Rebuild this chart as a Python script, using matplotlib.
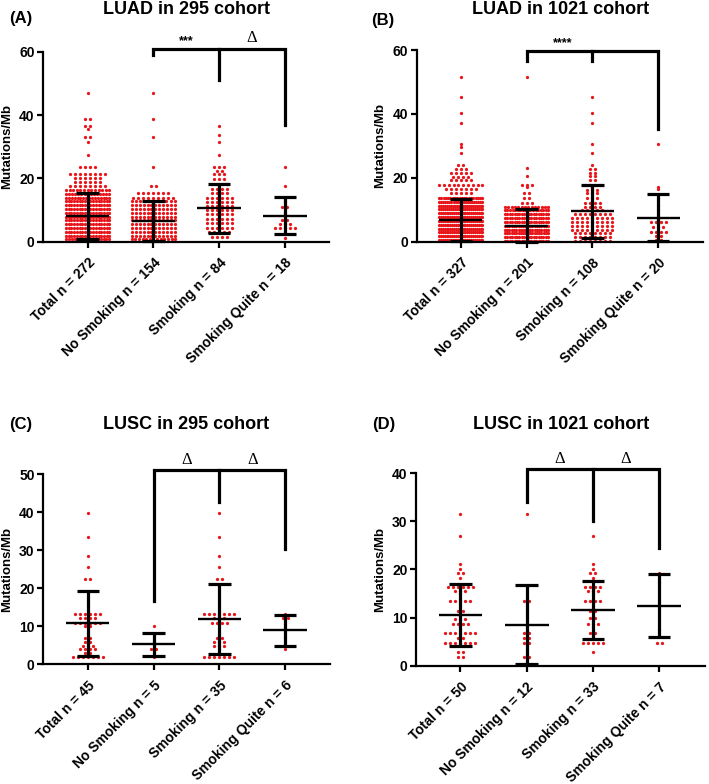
import numpy as np
import matplotlib
matplotlib.use("Agg")
import matplotlib.pyplot as plt

plt.rcParams['font.family'] = ['Liberation Sans', 'DejaVu Sans']

groups = ['Total', 'No Smoking', 'Smoking', 'Smoking Quite']
RED = '#e8161b'

# ---- (A) LUAD in 295 cohort: dot rows as (level, count) ----
a_n = [272, 154, 84, 18]
a_lv = [
    [47.0, 38.7, 36.7, 35.7, 33.2, 31.6, 27.5, 23.6, 21.5, 20.0, 18.8, 17.6,
     16.3, 15.1, 13.9, 12.7, 11.5, 10.3, 9.1, 7.9, 6.7, 5.5, 4.3, 3.1, 1.9, 0.7],
    [47.0, 38.7, 33.2, 23.6, 17.6, 15.3,
     13.9, 12.7, 11.5, 10.3, 9.1, 7.9, 6.7, 5.5, 4.3, 3.1, 1.9, 0.7],
    [36.6, 33.6, 31.6, 27.5, 23.6, 22.4, 21.4, 19.9, 18.3, 16.6, 15.4,
     13.9, 12.6, 11.3, 10.0, 8.6, 7.2, 5.8, 4.4, 3.0, 1.5],
    [23.6, 17.6, 12.5, 11.1, 9.0, 7.0, 5.6, 4.2, 2.4, 1.1],
]
a_ct = [
    [1, 2, 2, 1, 2, 1, 1, 4, 8, 6, 6, 8,
     13, 15, 16, 17, 17, 17, 17, 17, 17, 17, 17, 17, 17, 16],
    [1, 1, 1, 1, 2, 7,
     9, 11, 12, 12, 12, 12, 12, 12, 12, 12, 12, 13],
    [1, 1, 1, 1, 3, 2, 3, 3, 4, 4, 4,
     6, 6, 6, 6, 6, 6, 6, 6, 5, 4],
    [1, 1, 1, 2, 1, 2, 3, 5, 1, 1],
]
a_mean = [8.2, 6.6, 10.5, 8.2]
a_sd = [7.3, 6.3, 7.6, 5.9]

# ---- (B) LUAD in 1021 cohort ----
b_n = [327, 201, 108, 20]
b_lv = [
    [51.7, 45.2, 40.3, 37.3, 30.5, 29.6, 27.7, 24.0, 22.9, 21.6, 20.3, 19.3,
     17.9, 16.5, 15.1, 13.7, 12.5, 11.3, 10.1, 8.9, 7.7, 6.5, 5.3, 4.1, 2.9, 1.7, 0.5],
    [51.7, 23.2, 20.5, 17.9, 17.0, 15.1, 13.6, 12.2,
     11.0, 9.8, 8.6, 7.4, 6.2, 5.0, 3.8, 2.6, 1.4, 0.3],
    [45.2, 40.3, 37.3, 30.5, 27.7, 24.0, 22.9, 21.6, 20.5, 19.3, 17.9, 16.2,
     15.1, 13.6, 12.2, 11.0, 9.8, 8.6, 7.4, 6.2, 5.0, 3.8, 2.6, 1.4, 0.3],
    [30.5, 17.2, 16.5, 11.5, 9.9, 6.3, 4.7, 3.1, 1.8, 0.5],
]
b_ct = [
    [1, 1, 1, 1, 1, 1, 1, 2, 3, 5, 4, 5,
     10, 7, 5, 20, 22, 23, 23, 24, 24, 24, 24, 24, 24, 24, 23],
    [1, 1, 1, 3, 1, 2, 2, 3,
     14, 18, 19, 19, 19, 20, 20, 20, 19, 19],
    [1, 1, 1, 1, 1, 1, 2, 2, 2, 2, 4, 3,
     3, 3, 4, 4, 5, 8, 9, 9, 9, 9, 8, 8, 8],
    [1, 1, 1, 1, 1, 4, 3, 4, 2, 2],
]
b_mean = [6.8, 5.0, 9.5, 7.5]
b_sd = [6.5, 5.1, 8.4, 7.3]

# ---- (C) LUSC in 295 cohort ----
c_n = [45, 5, 35, 6]
c_lv = [
    [39.7, 33.5, 28.5, 25.5, 22.5, 16.4, 13.1, 12.1, 10.9, 10.0, 7.0, 5.9,
     4.9, 3.9, 2.9, 1.8],
    [10.1, 6.2, 3.9, 1.8],
    [39.7, 33.5, 28.5, 25.5, 22.5, 13.1, 12.1, 10.9, 7.0, 5.9, 4.9, 1.8],
    [13.1, 12.2, 7.1, 5.1, 3.9],
]
c_ct = [
    [1, 1, 1, 1, 2, 1, 6, 4, 6, 2, 2, 2, 3, 4, 2, 7],
    [1, 1, 2, 1],
    [1, 1, 1, 1, 2, 7, 3, 4, 2, 3, 3, 7],
    [1, 2, 1, 1, 1],
]
c_mean = [10.8, 5.2, 11.9, 8.9]
c_sd = [8.5, 3.1, 9.1, 4.0]

# ---- (D) LUSC in 1021 cohort ----
d_n = [50, 12, 33, 7]
d_lv = [
    [31.5, 27.0, 21.1, 20.2, 19.2, 18.2, 16.3, 15.5, 13.4, 11.4, 9.8, 8.7,
     6.7, 5.7, 4.8, 2.9, 1.9],
    [31.5, 13.4, 6.7, 5.7, 4.8, 1.9, 0.3],
    [27.0, 21.1, 20.2, 19.2, 18.2, 16.3, 15.5, 13.4, 11.4, 9.9, 8.7, 6.7,
     5.7, 4.8, 2.9],
    [19.2, 18.8, 17.3, 12.5, 7.6, 4.8],
]
d_ct = [
    [1, 1, 1, 1, 2, 1, 6, 3, 5, 2, 3, 4, 7, 2, 7, 2, 2],
    [1, 2, 2, 2, 2, 2, 1],
    [1, 1, 1, 2, 1, 4, 3, 4, 2, 2, 3, 2, 1, 5, 1],
    [1, 1, 1, 1, 1, 2],
]
d_mean = [10.5, 8.5, 11.6, 12.5]
d_sd = [6.5, 8.2, 6.1, 6.5]


def swarm(center, levels, counts, step=0.076, half=0.33):
    xs, ys = [], []
    for lv, n in zip(levels, counts):
        w = min((n - 1) * step, 2 * half)
        off = np.linspace(-w / 2, w / 2, n) if n > 1 else np.zeros(1)
        xs.extend(center + off)
        ys.extend([lv] * n)
    return xs, ys


def panel(rect, letter, title, letter_xy, title_xy, n, lv, ct, mean, sd,
          ylim, yticks, xlim, bracket, labels):
    ax = fig.add_axes(rect)
    for i in range(4):
        xs, ys = swarm(i, lv[i], ct[i])
        ax.scatter(xs, ys, s=5.5, color=RED, linewidths=0, zorder=2, clip_on=False)
        m, s = mean[i], sd[i]
        ax.hlines(m, i - 0.33, i + 0.33, color='black', lw=1.7, zorder=3)
        ax.vlines(i, m - s, m + s, color='black', lw=2.3, zorder=3, clip_on=False)
        ax.hlines([m - s, m + s], i - 0.17, i + 0.17, color='black', lw=2.3,
                  zorder=3, clip_on=False)
    top, d1, d2, d3 = bracket
    ax.plot([1, 1, 3, 3], [d1, top, top, d3], color='black', lw=2.3,
            clip_on=False, solid_joinstyle='miter')
    ax.plot([2, 2], [d2, top], color='black', lw=2.3, clip_on=False)
    for (tx, ty, txt) in labels:
        if txt == '\u0394':
            ax.text(tx, ty, txt, ha='center', va='center', fontsize=12,
                    family='Liberation Serif')
        else:
            ax.text(tx, ty, txt, ha='center', va='center', fontsize=9,
                    fontweight='bold')
    ax.set_xlim(*xlim)
    ax.set_ylim(*ylim)
    ax.set_yticks(yticks)
    ax.set_xticks(range(4))
    ax.set_xticklabels([f'{g} n = {k}' for g, k in zip(groups, n)], rotation=45,
                       ha='right', va='top', rotation_mode='anchor',
                       fontsize=10, fontweight='bold')
    for t in ax.get_yticklabels():
        t.set_fontweight('bold')
        t.set_fontsize(10)
    ax.tick_params(axis='y', length=4, width=1.6, pad=2)
    ax.tick_params(axis='x', length=4, width=1.6, pad=6)
    for sp in ['top', 'right']:
        ax.spines[sp].set_visible(False)
    for sp in ['left', 'bottom']:
        ax.spines[sp].set_linewidth(1.6)
    ax.set_ylabel('Mutations/Mb', fontsize=9.5, fontweight='bold')
    ax.yaxis.set_label_coords(-0.105, 0.5)
    fig.text(*letter_xy, letter, fontsize=12, fontweight='bold', va='center')
    fig.text(*title_xy, title, fontsize=13, fontweight='bold', ha='center', va='center')
    return ax


fig = plt.figure(figsize=(7.09, 7.84), dpi=100)

panel([0.0606, 0.6917, 0.4034, 0.2423], '(A)', 'LUAD in 295 cohort',
      (0.013, 0.976), (0.263, 0.9885), a_n, a_lv, a_ct, a_mean, a_sd,
      (0, 60), [0, 20, 40, 60], (-0.68, 3.67),
      (61.0, 59.0, 51.0, 36.8),
      [(1.5, 63.2, '***'), (2.5, 64.3, '\u0394')])

panel([0.5877, 0.6917, 0.4038, 0.2445], '(B)', 'LUAD in 1021 cohort',
      (0.524, 0.974), (0.790, 0.9885), b_n, b_lv, b_ct, b_mean, b_sd,
      (0, 60), [0, 20, 40, 60], (-0.67, 3.68),
      (59.7, 56.6, 56.6, 35.4),
      [(1.55, 62.2, '****')])

panel([0.0606, 0.1527, 0.4048, 0.2427], '(C)', 'LUSC in 295 cohort',
      (0.013, 0.458), (0.263, 0.458), c_n, c_lv, c_ct, c_mean, c_sd,
      (0, 50), [0, 10, 20, 30, 40, 50], (-0.68, 3.68),
      (51.0, 16.6, 42.7, 30.4),
      [(1.5, 53.8, '\u0394'), (2.5, 53.8, '\u0394')])

panel([0.5867, 0.1509, 0.4076, 0.2454], '(D)', 'LUSC in 1021 cohort',
      (0.525, 0.458), (0.791, 0.458), d_n, d_lv, d_ct, d_mean, d_sd,
      (0, 40), [0, 10, 20, 30, 40], (-0.67, 3.69),
      (40.9, 34.1, 30.0, 24.4),
      [(1.5, 43.0, '\u0394'), (2.5, 43.0, '\u0394')])

fig.savefig('out.png', dpi=100)
